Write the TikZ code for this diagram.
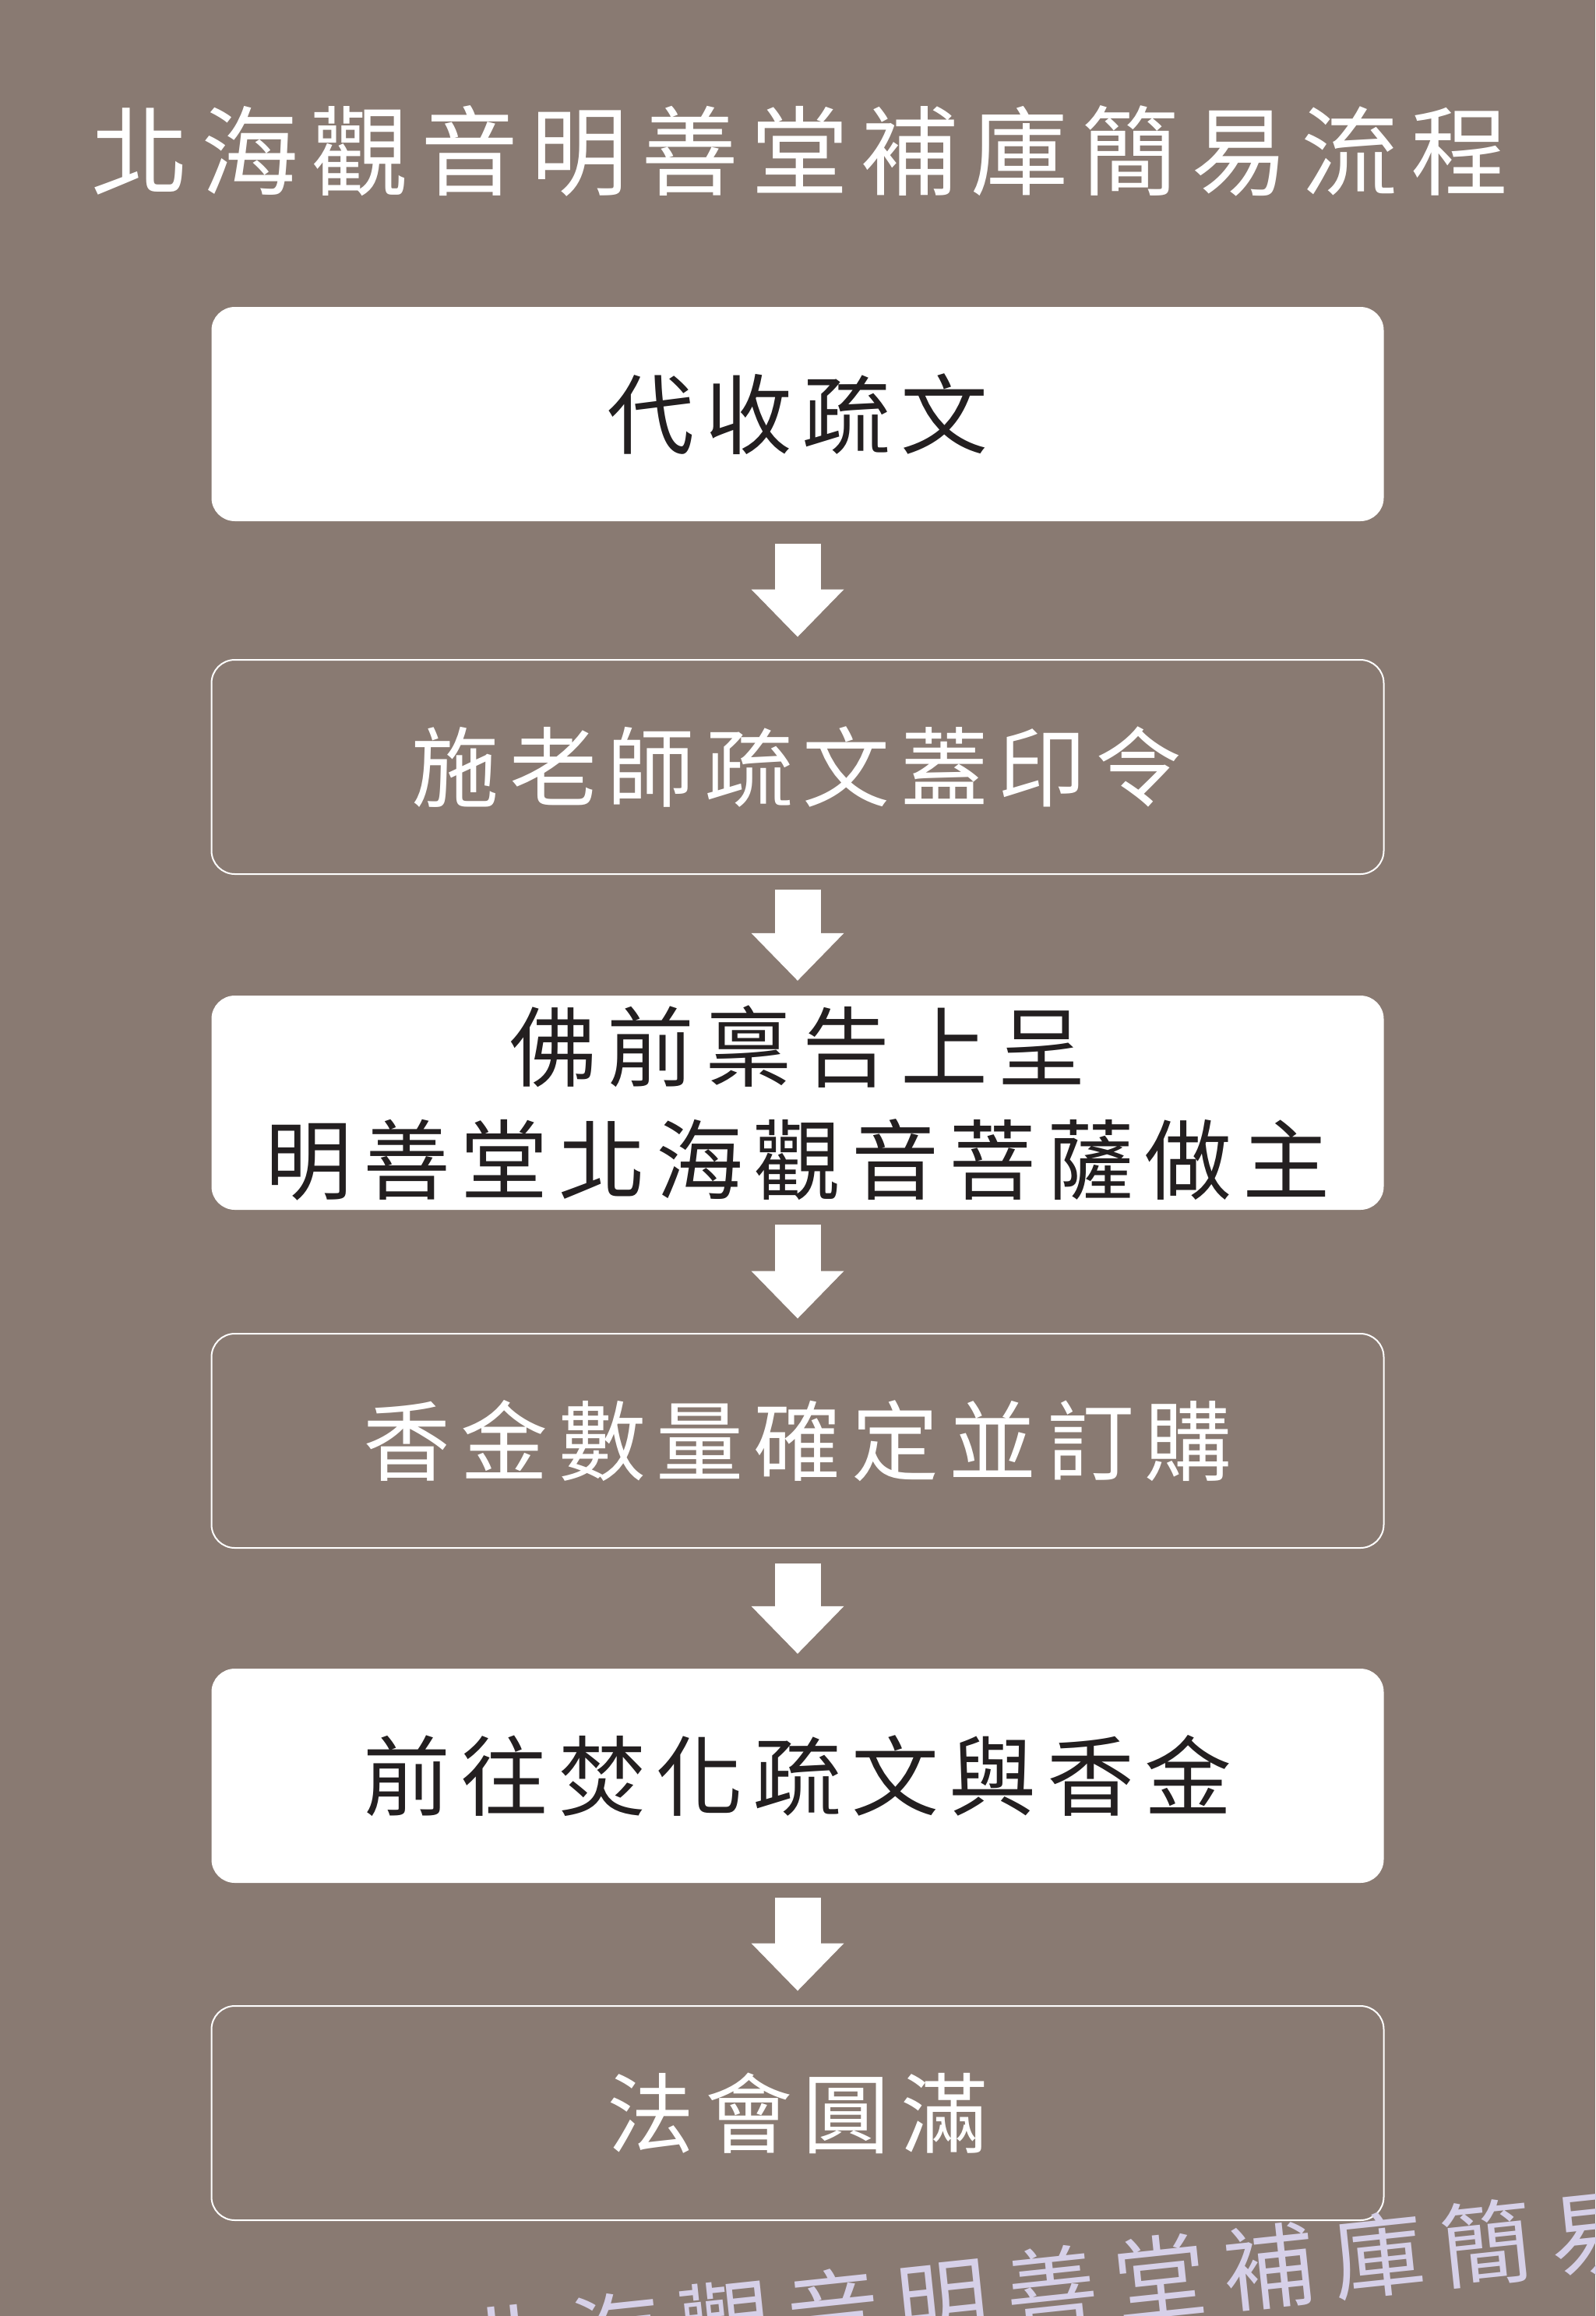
\documentclass[tikz,border=0pt]{standalone}
\usepackage{fontspec}
\usepackage{xcolor}
\newfontfamily\cjk[LetterSpace=12]{Noto Sans CJK TC}
\newfontfamily\cjktitle[LetterSpace=13]{Noto Sans CJK TC}
\newfontfamily\cjkmark[LetterSpace=19]{Noto Sans CJK TC}
\usetikzlibrary{arrows.meta}

\definecolor{bgbrown}{RGB}{137,122,114}
\definecolor{inkdark}{RGB}{35,31,32}
\definecolor{marklilac}{RGB}{214,208,232}

\tikzset{
  stepbox/.style={minimum width=15.05cm, minimum height=2.75cm, inner sep=0pt,
    rounded corners=0.3cm, align=center,
    font=\cjk\fontsize{1.12cm}{1.45cm}\selectfont},
  stepfill/.style={stepbox, fill=white, text=inkdark},
  stepline/.style={stepbox, draw=white, line width=0.02cm, text=white},
  flow/.style={white, line width=0.59cm,
    -{Triangle[length=0.61cm, width=1.19cm, line width=0pt]},
    shorten <=#1, shorten >=#1},
}

\begin{document}
\begin{tikzpicture}
% Background
\fill[bgbrown] (0,0) rectangle (20.48,-29.73);
\useasboundingbox (0,0) rectangle (20.48,-29.73);

% Title
\node[text=white, font=\cjktitle\fontsize{1.25cm}{1.5cm}\selectfont] (title) at (10.27,-1.94) {北海觀音明善堂補庫簡易流程};

% Steps
\node[stepfill] (s1) at (10.24,-5.315) {代收疏文};
\node[stepline] (s2) at (10.24,-9.845) {施老師疏文蓋印令};
\node[stepfill] (s3) at (10.24,-14.155) {佛前稟告上呈\\明善堂北海觀音菩薩做主};
\node[stepline] (s4) at (10.24,-18.495) {香金數量確定並訂購};
\node[stepfill] (s5) at (10.24,-22.795) {前往焚化疏文與香金};
\node[stepline] (s6) at (10.24,-27.125) {法會圓滿};

% Arrows
\draw[flow=0.285cm] (s1) -- (s2);
\draw[flow=0.185cm] (s2) -- (s3);
\draw[flow=0.185cm] (s3) -- (s4);
\draw[flow=0.185cm] (s4) -- (s5);
\draw[flow=0.185cm] (s5) -- (s6);

% Watermark
\begin{scope}
\clip (0,0) rectangle (20.48,-29.73);
\node[text=marklilac, rotate=6, font=\cjkmark\fontsize{1.18cm}{1.4cm}\selectfont] (mark) at (14.90,-29.24) {北海觀音明善堂補庫簡易流程};
\end{scope}
\end{tikzpicture}
\end{document}
